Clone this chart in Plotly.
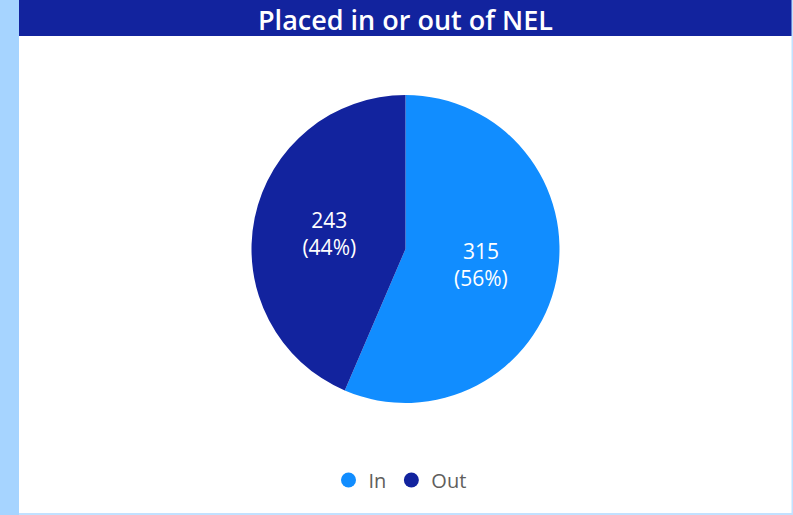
import plotly.graph_objects as go

categories = ["In", "Out"]
values = [315, 243]
colors = ["#118DFF", "#12239E"]
title_text = "Placed in or out of NEL"

W, H = 793, 515


def px_x(v):
    return v / W


def px_y(v):
    return 1 - v / H


fig = go.Figure()

fig.add_trace(go.Pie(
    labels=categories,
    values=values,
    marker=dict(colors=colors, line=dict(color="white", width=0)),
    sort=False,
    direction="clockwise",
    rotation=0,
    texttemplate="%{value}<br>(%{percent:.0%})",
    textposition="inside",
    insidetextorientation="horizontal",
    textfont=dict(family="Open Sans", size=21, color="white"),
    hoverinfo="label+value+percent",
    showlegend=False,
    domain=dict(x=[px_x(250), px_x(561)], y=[px_y(403), px_y(95)]),
))

# Legend entries with round markers
for name, col in zip(categories, colors):
    fig.add_trace(go.Scatter(
        x=[None], y=[None], mode="markers", name=name,
        marker=dict(symbol="circle", size=15, color=col),
        showlegend=True, hoverinfo="skip",
    ))

shapes = [
    # left accent strip
    dict(type="rect", xref="paper", yref="paper", x0=0, x1=px_x(19), y0=0, y1=1,
         fillcolor="#A6D4FF", line=dict(width=0), layer="below"),
    # title bar
    dict(type="rect", xref="paper", yref="paper", x0=px_x(19), x1=px_x(792),
         y0=px_y(36), y1=1, fillcolor="#12239E", line=dict(width=0), layer="below"),
    # right border
    dict(type="rect", xref="paper", yref="paper", x0=px_x(791.5), x1=1, y0=0, y1=1,
         fillcolor="#C2E1FF", line=dict(width=0), layer="below"),
    # bottom border
    dict(type="rect", xref="paper", yref="paper", x0=px_x(19), x1=1, y0=0, y1=px_y(513),
         fillcolor="#C2E1FF", line=dict(width=0), layer="below"),
]

fig.update_layout(
    width=W, height=H,
    margin=dict(l=0, r=0, t=0, b=0),
    paper_bgcolor="white",
    plot_bgcolor="rgba(0,0,0,0)",
    xaxis=dict(visible=False, domain=[0, 0.001]),
    yaxis=dict(visible=False, domain=[0, 0.001]),
    shapes=shapes,
    annotations=[dict(
        text=title_text, xref="paper", yref="paper",
        x=px_x(405), y=px_y(19), xanchor="center", yanchor="middle",
        showarrow=False, borderpad=0,
        font=dict(family="Open Sans", size=27, color="white", weight=600),
    )],
    legend=dict(
        orientation="h", x=px_x(400), xanchor="center",
        y=px_y(480), yanchor="middle",
        font=dict(family="Open Sans", size=20, color="#605E5C"),
        itemwidth=30, tracegroupgap=0, bgcolor="rgba(0,0,0,0)",
    ),
)

fig.write_html("out.html")
